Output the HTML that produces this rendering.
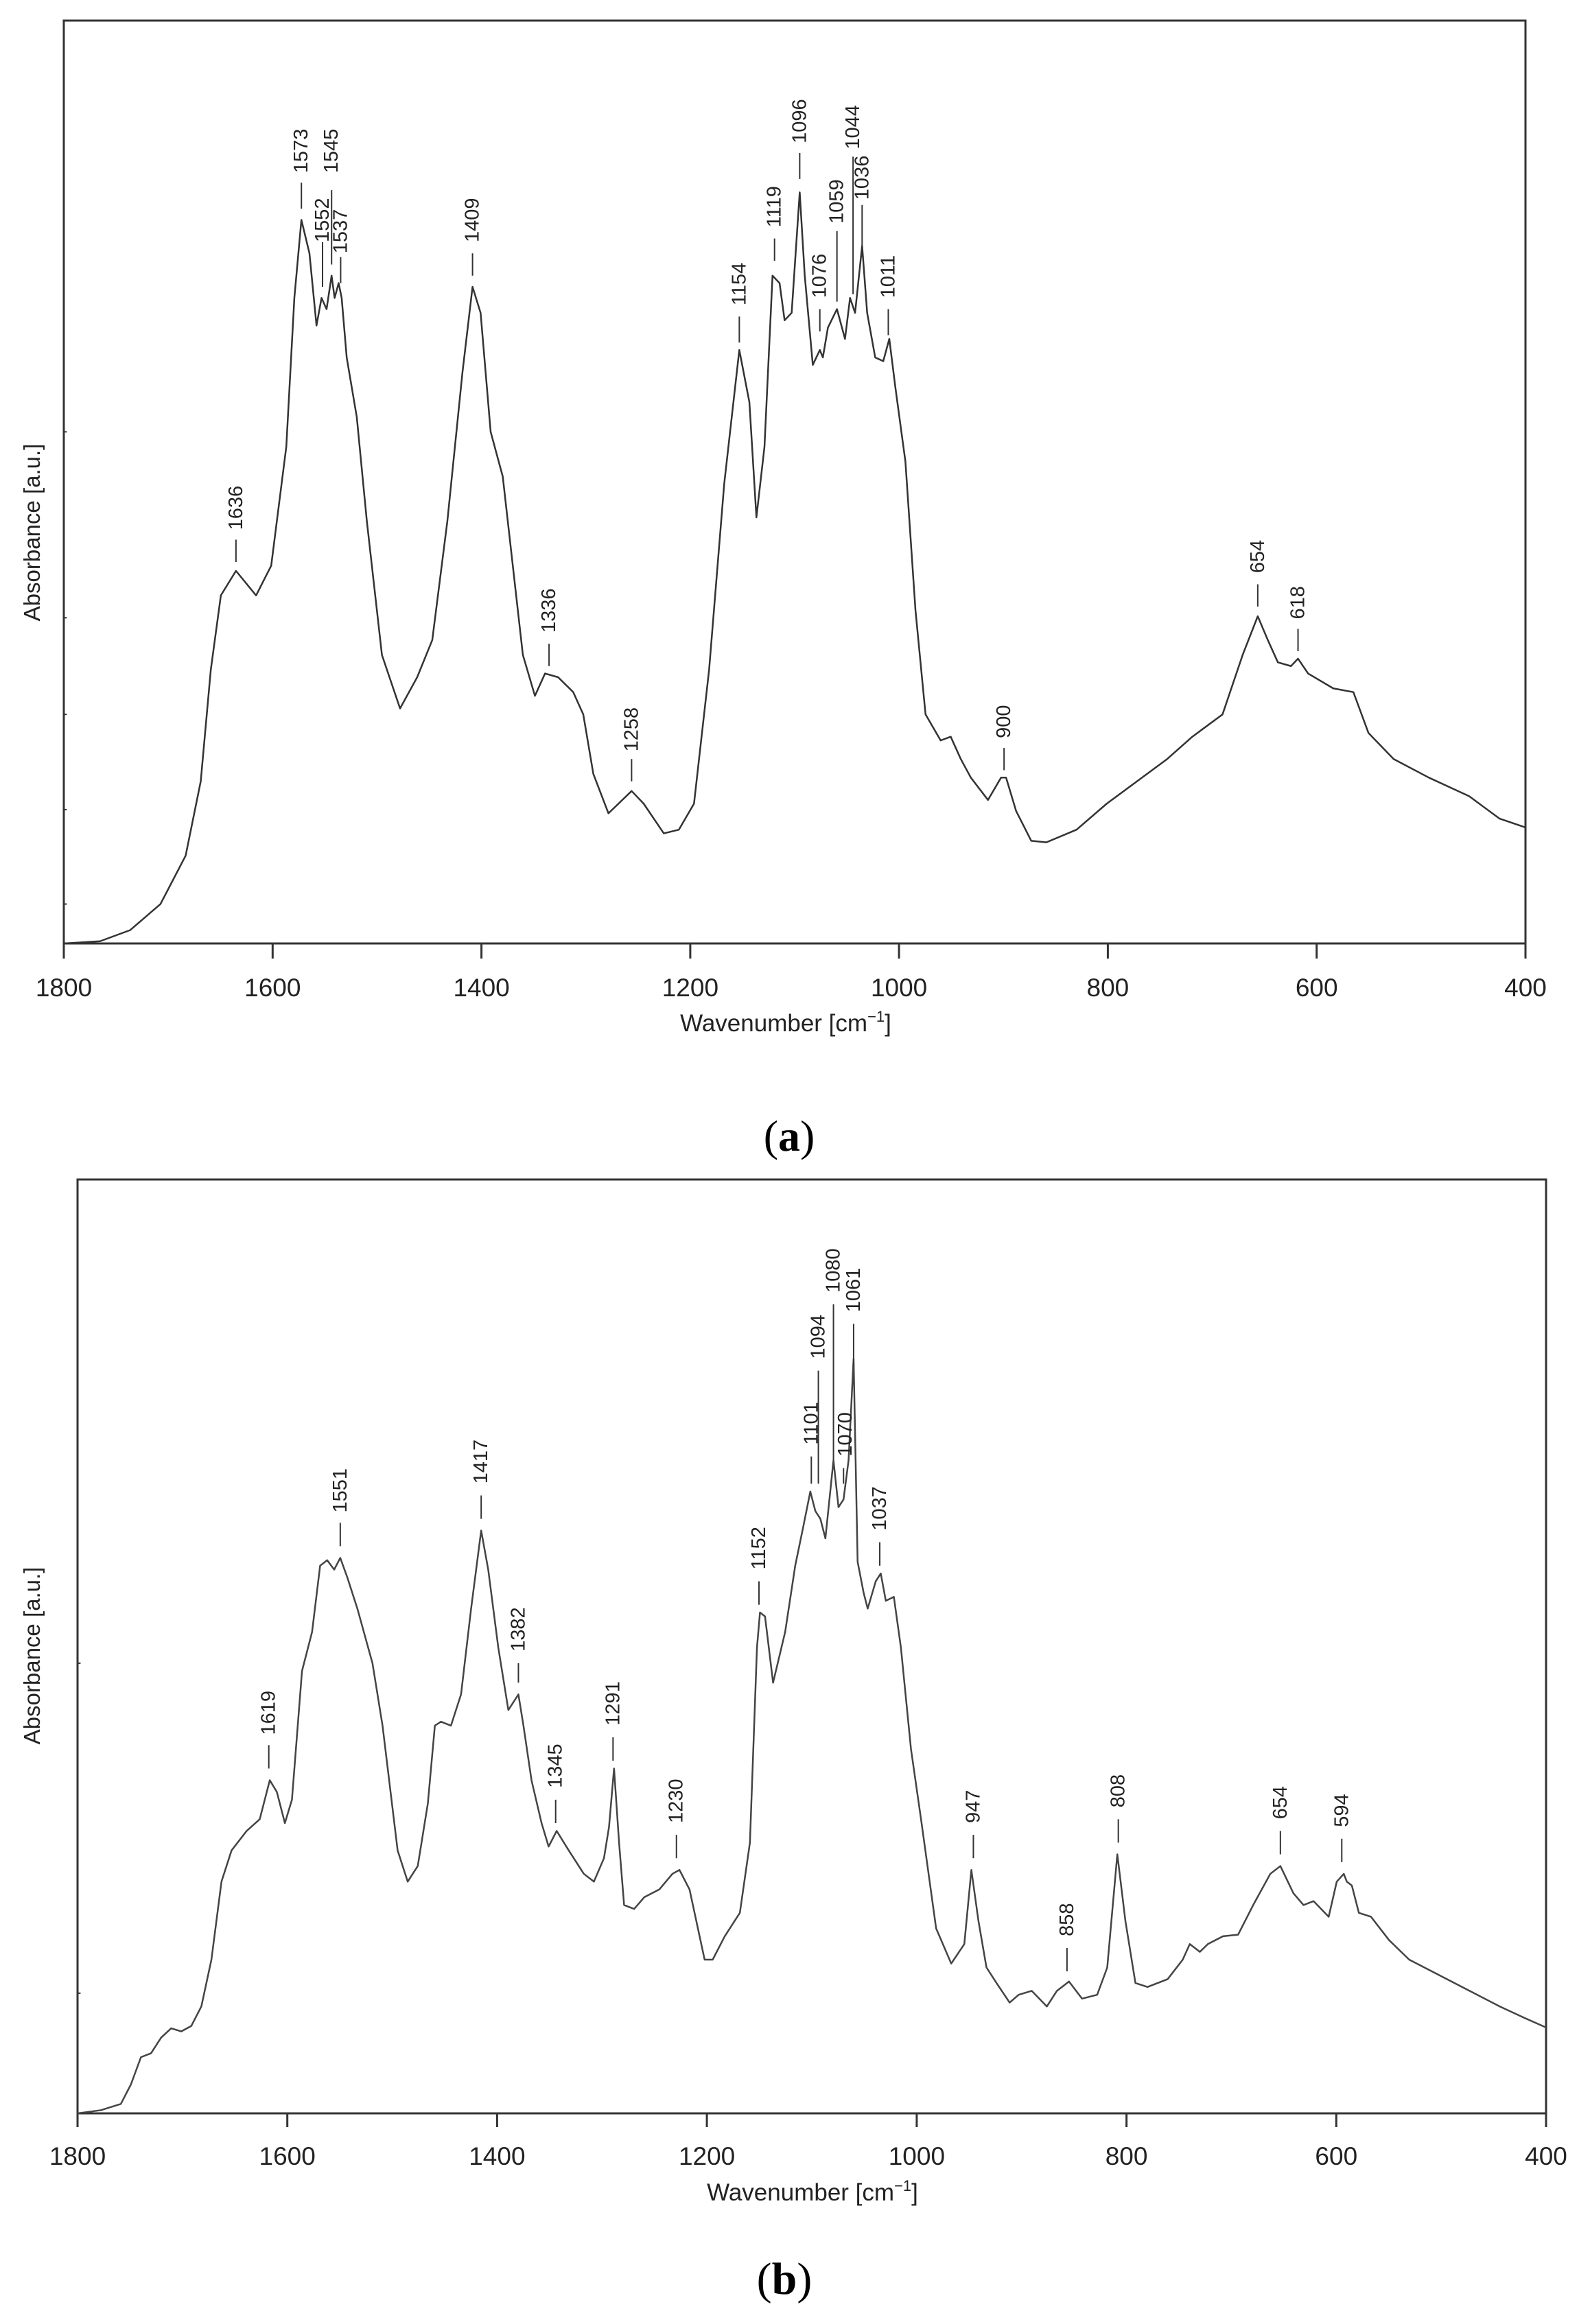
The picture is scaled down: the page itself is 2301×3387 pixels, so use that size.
<!DOCTYPE html>
<html><head><meta charset="utf-8"><style>
html,body{margin:0;padding:0;background:#fff}
svg{display:block}
.t{font-family:"Liberation Sans",sans-serif;fill:#222}
.p{font-family:"Liberation Sans",sans-serif;font-size:29px;fill:#222}
</style></head><body>
<svg width="2301" height="3387" viewBox="0 0 2301 3387" xmlns="http://www.w3.org/2000/svg">
<rect width="2301" height="3387" fill="#fff"/>

<!-- ===== Plot (a) ===== -->
<rect x="93" y="30" width="2130" height="1345" fill="none" stroke="#333" stroke-width="3"/>
<g stroke="#333" stroke-width="3">
<line x1="93" y1="1375" x2="93" y2="1397"/><line x1="397.3" y1="1375" x2="397.3" y2="1397"/><line x1="701.6" y1="1375" x2="701.6" y2="1397"/><line x1="1005.9" y1="1375" x2="1005.9" y2="1397"/><line x1="1310.1" y1="1375" x2="1310.1" y2="1397"/><line x1="1614.4" y1="1375" x2="1614.4" y2="1397"/><line x1="1918.7" y1="1375" x2="1918.7" y2="1397"/><line x1="2223" y1="1375" x2="2223" y2="1397"/>
</g>
<g class="t" font-size="37" text-anchor="middle">
<text x="93" y="1452">1800</text><text x="397.3" y="1452">1600</text><text x="701.6" y="1452">1400</text><text x="1005.9" y="1452">1200</text><text x="1310.1" y="1452">1000</text><text x="1614.4" y="1452">800</text><text x="1918.7" y="1452">600</text><text x="2223" y="1452">400</text>
</g>
<text class="t" font-size="35" x="1145" y="1503" text-anchor="middle">Wavenumber [cm<tspan font-size="22" dy="-14">−1</tspan><tspan dy="14">]</tspan></text>
<text class="t" font-size="33" text-anchor="middle" transform="translate(58,776) rotate(-90)">Absorbance [a.u.]</text>
<text x="1150" y="1677" text-anchor="middle" font-family="Liberation Serif,serif" font-size="64" fill="#000">(<tspan font-weight="bold">a</tspan>)</text>

<g transform="matrix(1.467 0 0 1.0838 -0.888 0.737)">
<g stroke="#333" stroke-width="2" vector-effect="non-scaling-stroke">
<line x1="64" y1="580" x2="67" y2="580" vector-effect="non-scaling-stroke"/><line x1="64" y1="830" x2="67" y2="830" vector-effect="non-scaling-stroke"/><line x1="64" y1="960" x2="67" y2="960" vector-effect="non-scaling-stroke"/><line x1="64" y1="1088" x2="67" y2="1088" vector-effect="non-scaling-stroke"/><line x1="64" y1="1215" x2="67" y2="1215" vector-effect="non-scaling-stroke"/>
</g>
<path fill="none" stroke="#333" stroke-width="2.5" vector-effect="non-scaling-stroke" stroke-linejoin="round" d="M64,1268 L100,1265 130,1250 160,1215 185,1150 200,1050 210,900 220,800 235,767 255,800 270,760 285,600 293,400 300,295 308,340 315,437 320,400 325,415 330,370 333,400 337,380 340,400 345,480 355,560 365,700 380,880 398,952 415,910 430,860 445,700 460,500 470,385 478,420 488,580 500,640 510,760 520,880 532,935 542,905 555,910 570,930 580,960 590,1040 605,1093 615,1080 628,1063 640,1080 660,1120 675,1115 690,1080 705,900 720,650 735,470 745,540 752,695 760,600 768,370 775,380 780,430 787,420 795,258 800,370 808,490 815,470 818,480 823,440 832,415 840,455 845,400 850,420 857,330 862,420 870,480 878,485 884,455 890,520 900,620 910,820 920,960 935,995 945,990 955,1020 965,1045 982,1075 995,1045 1000,1045 1010,1090 1025,1130 1040,1132 1070,1115 1100,1080 1130,1050 1160,1020 1185,990 1200,975 1215,960 1235,880 1250,828 1260,860 1270,890 1283,895 1290,885 1300,905 1325,925 1345,930 1360,985 1385,1020 1420,1045 1460,1070 1490,1100 1516,1112"/>
<g stroke="#333" stroke-width="2">
<line x1="235" y1="725" x2="235" y2="755" vector-effect="non-scaling-stroke"/>
<line x1="300" y1="245" x2="300" y2="280" vector-effect="non-scaling-stroke"/>
<line x1="321" y1="325" x2="321" y2="385" vector-effect="non-scaling-stroke"/>
<line x1="330" y1="255" x2="330" y2="355" vector-effect="non-scaling-stroke"/>
<line x1="339" y1="345" x2="339" y2="380" vector-effect="non-scaling-stroke"/>
<line x1="470" y1="340" x2="470" y2="370" vector-effect="non-scaling-stroke"/>
<line x1="546" y1="865" x2="546" y2="895" vector-effect="non-scaling-stroke"/>
<line x1="628" y1="1020" x2="628" y2="1050" vector-effect="non-scaling-stroke"/>
<line x1="735" y1="425" x2="735" y2="460" vector-effect="non-scaling-stroke"/>
<line x1="770" y1="320" x2="770" y2="350" vector-effect="non-scaling-stroke"/>
<line x1="795" y1="205" x2="795" y2="240" vector-effect="non-scaling-stroke"/>
<line x1="815" y1="415" x2="815" y2="445" vector-effect="non-scaling-stroke"/>
<line x1="832" y1="310" x2="832" y2="405" vector-effect="non-scaling-stroke"/>
<line x1="848" y1="210" x2="848" y2="395" vector-effect="non-scaling-stroke"/>
<line x1="857" y1="275" x2="857" y2="345" vector-effect="non-scaling-stroke"/>
<line x1="883" y1="415" x2="883" y2="450" vector-effect="non-scaling-stroke"/>
<line x1="998" y1="1005" x2="998" y2="1035" vector-effect="non-scaling-stroke"/>
<line x1="1250" y1="785" x2="1250" y2="815" vector-effect="non-scaling-stroke"/>
<line x1="1290" y1="845" x2="1290" y2="875" vector-effect="non-scaling-stroke"/>
</g>
<g class="p" dominant-baseline="central">
<text transform="translate(235,712) scale(0.6817,0.9227) rotate(-90)">1636</text>
<text transform="translate(300,232) scale(0.6817,0.9227) rotate(-90)">1573</text>
<text transform="translate(321,325) scale(0.6817,0.9227) rotate(-90)">1552</text>
<text transform="translate(330,232) scale(0.6817,0.9227) rotate(-90)">1545</text>
<text transform="translate(339,340) scale(0.6817,0.9227) rotate(-90)">1537</text>
<text transform="translate(470,325) scale(0.6817,0.9227) rotate(-90)">1409</text>
<text transform="translate(546,850) scale(0.6817,0.9227) rotate(-90)">1336</text>
<text transform="translate(628,1010) scale(0.6817,0.9227) rotate(-90)">1258</text>
<text transform="translate(735,410) scale(0.6817,0.9227) rotate(-90)">1154</text>
<text transform="translate(770,305) scale(0.6817,0.9227) rotate(-90)">1119</text>
<text transform="translate(795,192) scale(0.6817,0.9227) rotate(-90)">1096</text>
<text transform="translate(815,400) scale(0.6817,0.9227) rotate(-90)">1076</text>
<text transform="translate(832,300) scale(0.6817,0.9227) rotate(-90)">1059</text>
<text transform="translate(848,200) scale(0.6817,0.9227) rotate(-90)">1044</text>
<text transform="translate(857,268) scale(0.6817,0.9227) rotate(-90)">1036</text>
<text transform="translate(883,400) scale(0.6817,0.9227) rotate(-90)">1011</text>
<text transform="translate(998,992) scale(0.6817,0.9227) rotate(-90)">900</text>
<text transform="translate(1250,770) scale(0.6817,0.9227) rotate(-90)">654</text>
<text transform="translate(1290,832) scale(0.6817,0.9227) rotate(-90)">618</text>
</g>
</g>

<!-- ===== Plot (b) ===== -->
<rect x="113" y="1719" width="2140" height="1361" fill="none" stroke="#333" stroke-width="3"/>
<g stroke="#333" stroke-width="3">
<line x1="113" y1="3080" x2="113" y2="3100"/><line x1="418.7" y1="3080" x2="418.7" y2="3100"/><line x1="724.4" y1="3080" x2="724.4" y2="3100"/><line x1="1030.1" y1="3080" x2="1030.1" y2="3100"/><line x1="1335.9" y1="3080" x2="1335.9" y2="3100"/><line x1="1641.6" y1="3080" x2="1641.6" y2="3100"/><line x1="1947.3" y1="3080" x2="1947.3" y2="3100"/><line x1="2253" y1="3080" x2="2253" y2="3100"/>
</g>
<g class="t" font-size="37" text-anchor="middle">
<text x="113" y="3155">1800</text><text x="418.7" y="3155">1600</text><text x="724.4" y="3155">1400</text><text x="1030.1" y="3155">1200</text><text x="1335.9" y="3155">1000</text><text x="1641.6" y="3155">800</text><text x="1947.3" y="3155">600</text><text x="2253" y="3155">400</text>
</g>
<text class="t" font-size="35" x="1184" y="3207" text-anchor="middle">Wavenumber [cm<tspan font-size="22" dy="-14">−1</tspan><tspan dy="14">]</tspan></text>
<text class="t" font-size="33" text-anchor="middle" transform="translate(58,2413) rotate(-90)">Absorbance [a.u.]</text>
<text x="1143" y="3343" text-anchor="middle" font-family="Liberation Serif,serif" font-size="66" fill="#000">(<tspan font-weight="bold">b</tspan>)</text>

<g transform="matrix(1.4668 0 0 1.137 0.06 1605.3)">
<g stroke="#333" stroke-width="2">
<line x1="77" y1="720" x2="80" y2="720" vector-effect="non-scaling-stroke"/><line x1="77" y1="1143" x2="80" y2="1143" vector-effect="non-scaling-stroke"/>
</g>
<path fill="none" stroke="#444" stroke-width="2.5" vector-effect="non-scaling-stroke" stroke-linejoin="round" d="M77,1297 L100,1293 120,1285 130,1260 140,1225 150,1220 160,1200 170,1188 180,1192 190,1185 200,1160 210,1100 220,1000 230,960 245,935 258,920 268,870 275,885 283,925 290,895 300,730 310,680 318,595 325,588 332,600 338,585 345,610 355,650 370,720 380,800 395,960 405,1000 415,980 425,900 432,800 438,795 448,800 458,760 468,650 478,550 485,600 495,700 505,780 515,760 520,800 528,870 538,925 545,955 553,935 565,960 580,990 590,1000 600,970 605,930 610,855 615,950 620,1030 630,1035 640,1020 655,1010 668,990 675,985 685,1010 700,1100 708,1100 720,1070 735,1040 745,950 752,700 755,655 760,660 768,745 780,680 790,595 798,545 805,500 810,525 815,535 820,560 828,460 833,520 838,510 843,460 848,330 852,590 858,630 862,650 870,615 875,605 880,640 888,635 895,700 905,830 915,920 930,1060 945,1105 958,1080 965,985 972,1050 980,1110 990,1130 1003,1155 1012,1145 1025,1140 1040,1160 1050,1140 1062,1128 1075,1150 1090,1145 1100,1110 1110,965 1118,1050 1128,1130 1140,1135 1160,1125 1175,1100 1182,1080 1192,1090 1200,1080 1215,1070 1230,1068 1245,1030 1262,990 1272,980 1285,1015 1295,1030 1305,1025 1320,1045 1328,1000 1335,990 1338,1000 1343,1005 1350,1040 1362,1045 1380,1075 1400,1100 1430,1120 1460,1140 1490,1160 1515,1175 1536,1187"/>
<g stroke="#333" stroke-width="2">
<line x1="267" y1="825" x2="267" y2="855" vector-effect="non-scaling-stroke"/>
<line x1="338" y1="540" x2="338" y2="570" vector-effect="non-scaling-stroke"/>
<line x1="478" y1="505" x2="478" y2="535" vector-effect="non-scaling-stroke"/>
<line x1="515" y1="720" x2="515" y2="745" vector-effect="non-scaling-stroke"/>
<line x1="552" y1="895" x2="552" y2="925" vector-effect="non-scaling-stroke"/>
<line x1="609" y1="815" x2="609" y2="845" vector-effect="non-scaling-stroke"/>
<line x1="672" y1="940" x2="672" y2="970" vector-effect="non-scaling-stroke"/>
<line x1="754" y1="615" x2="754" y2="645" vector-effect="non-scaling-stroke"/>
<line x1="806" y1="455" x2="806" y2="490" vector-effect="non-scaling-stroke"/>
<line x1="813" y1="345" x2="813" y2="490" vector-effect="non-scaling-stroke"/>
<line x1="828" y1="260" x2="828" y2="460" vector-effect="non-scaling-stroke"/>
<line x1="838" y1="470" x2="838" y2="490" vector-effect="non-scaling-stroke"/>
<line x1="848" y1="285" x2="848" y2="340" vector-effect="non-scaling-stroke"/>
<line x1="874" y1="565" x2="874" y2="595" vector-effect="non-scaling-stroke"/>
<line x1="967" y1="940" x2="967" y2="970" vector-effect="non-scaling-stroke"/>
<line x1="1060" y1="1085" x2="1060" y2="1115" vector-effect="non-scaling-stroke"/>
<line x1="1111" y1="920" x2="1111" y2="950" vector-effect="non-scaling-stroke"/>
<line x1="1272" y1="935" x2="1272" y2="965" vector-effect="non-scaling-stroke"/>
<line x1="1333" y1="945" x2="1333" y2="975" vector-effect="non-scaling-stroke"/>
</g>
<g class="p" dominant-baseline="central">
<text transform="translate(267,812) scale(0.6818,0.8795) rotate(-90)">1619</text>
<text transform="translate(338,527) scale(0.6818,0.8795) rotate(-90)">1551</text>
<text transform="translate(478,490) scale(0.6818,0.8795) rotate(-90)">1417</text>
<text transform="translate(515,705) scale(0.6818,0.8795) rotate(-90)">1382</text>
<text transform="translate(552,880) scale(0.6818,0.8795) rotate(-90)">1345</text>
<text transform="translate(609,800) scale(0.6818,0.8795) rotate(-90)">1291</text>
<text transform="translate(672,925) scale(0.6818,0.8795) rotate(-90)">1230</text>
<text transform="translate(754,600) scale(0.6818,0.8795) rotate(-90)">1152</text>
<text transform="translate(806,440) scale(0.6818,0.8795) rotate(-90)">1101</text>
<text transform="translate(813,330) scale(0.6818,0.8795) rotate(-90)">1094</text>
<text transform="translate(828,245) scale(0.6818,0.8795) rotate(-90)">1080</text>
<text transform="translate(840,455) scale(0.6818,0.8795) rotate(-90)">1070</text>
<text transform="translate(848,270) scale(0.6818,0.8795) rotate(-90)">1061</text>
<text transform="translate(874,550) scale(0.6818,0.8795) rotate(-90)">1037</text>
<text transform="translate(967,925) scale(0.6818,0.8795) rotate(-90)">947</text>
<text transform="translate(1060,1070) scale(0.6818,0.8795) rotate(-90)">858</text>
<text transform="translate(1111,905) scale(0.6818,0.8795) rotate(-90)">808</text>
<text transform="translate(1272,920) scale(0.6818,0.8795) rotate(-90)">654</text>
<text transform="translate(1333,930) scale(0.6818,0.8795) rotate(-90)">594</text>
</g>
</g>
</svg>
</body></html>
